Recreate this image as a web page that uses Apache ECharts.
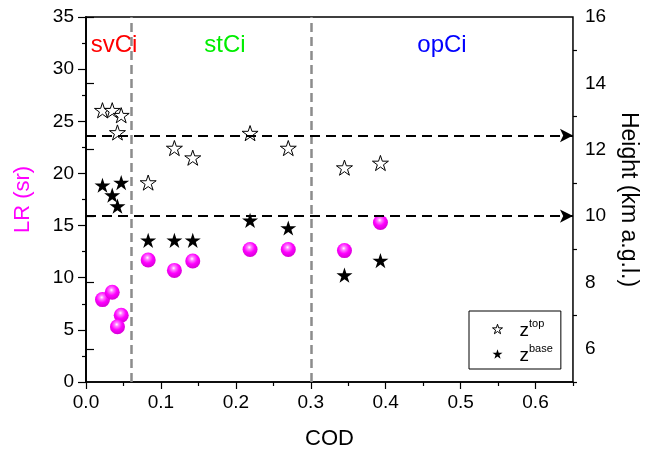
<!DOCTYPE html>
<html>
<head>
<meta charset="utf-8">
<script src="https://cdn.jsdelivr.net/npm/echarts@6/dist/echarts.min.js"></script>
<style>
  html, body { margin: 0; padding: 0; background: #fff; }
  #chart { width: 648px; height: 461px; }
</style>
</head>
<body>
<div id="chart"></div>
<script>
// COD of each case (x)
var codVals = [0.022, 0.035, 0.047, 0.042, 0.083, 0.118, 0.1425, 0.219, 0.27, 0.345, 0.393];
// lidar ratio (left axis, sr)
var lrVals = [7.9, 8.6, 6.4, 5.3, 11.7, 10.7, 11.6, 12.7, 12.7, 12.6, 15.3];
// cloud top and base height (right axis, km)
var topVals = [13.19, 13.19, 13.04, 12.52, 11.01, 12.05, 11.76, 12.5, 12.05, 11.46, 11.6];
var baseVals = [10.93, 10.63, 11.01, 10.30, 9.27, 9.27, 9.27, 9.87, 9.64, 8.22, 8.66];

// class borders (COD) and mean heights (km)
var classBorders = [0.06, 0.3];
var meanHeights = [12.43, 10.0];
var classNames = ['svCi', 'stCi', 'opCi'];

// ticks
var xTicks = [0, 0.1, 0.2, 0.3, 0.4, 0.5, 0.6];
var xMinorTicks = [0.05, 0.15, 0.25, 0.35, 0.45, 0.55, 0.65];
var hTicks = [6, 8, 10, 12, 14, 16];
var hMinorTicks = [5, 7, 9, 11, 13, 15];

function pairs(ys) {
    var out = [];
    for (var i = 0; i < codVals.length; i++) {
        out.push([codVals[i], ys[i]]);
    }
    return out;
}

var starPath = 'path://M50,2 L61.2,36.2 L97.5,36.2 L68.2,57.6 L79.4,92 L50,70.8 L20.6,92 L31.8,57.6 L2.5,36.2 L38.8,36.2 Z';
var font = 'Liberation Sans';

var myChart = echarts.init(document.getElementById('chart'));

var option = {
    animation: false,
    textStyle: { fontFamily: font },
    grid: {
        left: 86, right: 72, top: 17, bottom: 79,
        show: true, borderColor: '#000', borderWidth: 1.5
    },
    legend: {
        data: [
            { name: 'ztop', icon: starPath, itemStyle: { color: '#fff', borderColor: '#000', borderWidth: 1, opacity: 1 } },
            { name: 'zbase', icon: starPath, itemStyle: { color: '#000', borderWidth: 0, opacity: 1 } }
        ],
        orient: 'vertical',
        left: 469, top: 311,
        padding: [7, 8, 4, 23],
        itemGap: 3,
        itemWidth: 10, itemHeight: 10,
        borderColor: '#000', borderWidth: 1,
        selectedMode: false,
        formatter: function (name) {
            return name === 'ztop' ? '{z|z}{s|top}' : '{z|z}{s|base}';
        },
        textStyle: {
            rich: {
                z: { fontSize: 19, color: '#000', lineHeight: 22, verticalAlign: 'bottom', padding: [0, 0, 0, 12] },
                s: { fontSize: 11, color: '#000', lineHeight: 12, verticalAlign: 'top' }
            }
        }
    },
    xAxis: [{
        type: 'value', min: 0, max: 0.65,
        name: 'COD', nameLocation: 'middle', nameGap: 46,
        nameTextStyle: { fontSize: 22, color: '#000' },
        axisLine: { onZero: false, lineStyle: { color: '#000', width: 1.5 } },
        axisTick: { customValues: xTicks, length: 7, lineStyle: { color: '#000', width: 1.2 } },
        axisLabel: {
            customValues: xTicks, fontSize: 19, color: '#000', margin: 11,
            formatter: function (v) { return v.toFixed(1); }
        },
        splitLine: { show: false }
    }, {
        type: 'value', min: 0, max: 0.65, position: 'bottom',
        axisLine: { show: false },
        axisTick: { customValues: xMinorTicks, length: 4, lineStyle: { color: '#000', width: 1.2 } },
        axisLabel: { show: false },
        splitLine: { show: false }
    }],
    yAxis: [{
        type: 'value', min: 0, max: 35, interval: 5, position: 'left',
        name: 'LR (sr)', nameLocation: 'middle', nameGap: 52,
        nameTextStyle: { fontSize: 22, color: '#ff00ff' },
        axisLine: { show: true, lineStyle: { color: '#000', width: 1.5 } },
        axisTick: { length: 8, lineStyle: { color: '#000', width: 1.2 } },
        minorTick: { show: true, splitNumber: 2, length: 4, lineStyle: { color: '#000', width: 1.2 } },
        axisLabel: { fontSize: 19, color: '#000', margin: 12 },
        splitLine: { show: false }
    }, {
        type: 'value', min: 5, max: 16, position: 'right',
        name: 'Height (km a.g.l.)', nameLocation: 'middle', nameGap: 44, nameRotate: -90,
        nameTextStyle: { fontSize: 23, color: '#000' },
        axisLine: { show: true, lineStyle: { color: '#000', width: 1.5 } },
        axisTick: { customValues: hTicks, length: 8, lineStyle: { color: '#000', width: 1.2 } },
        axisLabel: { customValues: hTicks, fontSize: 19, color: '#000', margin: 12 },
        splitLine: { show: false }
    }, {
        type: 'value', min: 5, max: 16, position: 'right',
        axisLine: { show: false },
        axisTick: { customValues: hMinorTicks, length: 4, lineStyle: { color: '#000', width: 1.2 } },
        axisLabel: { show: false },
        splitLine: { show: false }
    }],
    graphic: [
        { type: 'text', x: 114, y: 45, style: { text: classNames[0], fill: '#ff0000', font: '24px ' + font, align: 'center', verticalAlign: 'middle' } },
        { type: 'text', x: 225, y: 45, style: { text: classNames[1], fill: '#00ee00', font: '24px ' + font, align: 'center', verticalAlign: 'middle' } },
        { type: 'text', x: 442, y: 45, style: { text: classNames[2], fill: '#0000ff', font: '24px ' + font, align: 'center', verticalAlign: 'middle' } }
    ],
    series: [{
        name: 'LR',
        type: 'scatter',
        xAxisIndex: 0, yAxisIndex: 0,
        symbol: 'circle', symbolSize: 15,
        itemStyle: {
            opacity: 1,
            color: {
                type: 'radial', x: 0.45, y: 0.35, r: 0.65,
                colorStops: [
                    { offset: 0, color: '#ffffff' },
                    { offset: 0.2, color: '#ff80ff' },
                    { offset: 0.55, color: '#ff00ff' },
                    { offset: 1, color: '#d400d4' }
                ]
            }
        },
        data: pairs(lrVals),
        markLine: {
            silent: true, symbol: 'none',
            label: { show: false },
            lineStyle: { color: '#8c8c8c', width: 2.5, type: [9, 5], opacity: 1 },
            data: classBorders.map(function (b) { return { xAxis: b }; })
        },
        z: 3
    }, {
        name: 'ztop',
        type: 'scatter',
        xAxisIndex: 0, yAxisIndex: 1,
        symbol: starPath, symbolSize: 16, symbolKeepAspect: true,
        itemStyle: { color: '#fff', borderColor: '#000', borderWidth: 1, opacity: 1 },
        data: pairs(topVals),
        markLine: {
            silent: true, symbol: ['none', 'arrow'], symbolSize: [10, 13],
            label: { show: false },
            lineStyle: { color: '#000', width: 2, type: [10, 6], opacity: 1 },
            data: meanHeights.map(function (h) {
                return [{ coord: [0, h] }, { coord: [0.65, h] }];
            })
        },
        z: 3
    }, {
        name: 'zbase',
        type: 'scatter',
        xAxisIndex: 0, yAxisIndex: 1,
        symbol: starPath, symbolSize: 16, symbolKeepAspect: true,
        itemStyle: { color: '#000', opacity: 1 },
        data: pairs(baseVals),
        z: 3
    }]
};

myChart.setOption(option);
</script>
</body>
</html>
